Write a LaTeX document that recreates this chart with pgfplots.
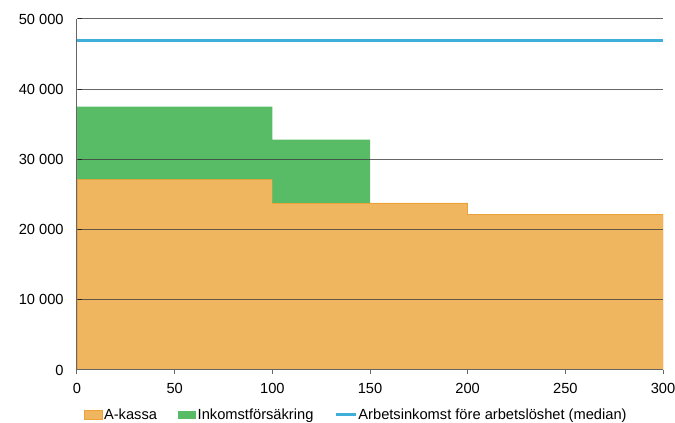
\documentclass[border=0pt]{standalone}
\usepackage{fontspec}
\setmainfont{Liberation Sans}
\usepackage{pgfplots}
\pgfplotsset{compat=1.18}
\definecolor{akassa}{RGB}{240,181,95}
\definecolor{akassaedge}{RGB}{236,162,55}
\definecolor{inkomst}{RGB}{88,187,101}
\definecolor{arb}{RGB}{63,174,216}
\begin{document}
\begin{tikzpicture}
\begin{axis}[
  scale only axis, width=439.5pt, height=263.25pt,
  xmin=0, xmax=300, ymin=0, ymax=50000,
  xtick={0,50,...,300}, ytick={0,10000,...,50000},
  scaled y ticks=false,
  /pgf/number format/assume math mode=true,
  tick label style={font=\fontsize{11}{13}\selectfont},
  yticklabel style={xshift=-3.5pt, /pgf/number format/1000 sep={\ }},
  xticklabel style={yshift=-3.5pt},
  axis on top,
  axis lines*=left,
  axis line style={draw=black!60, line width=0.75pt},
  ymajorgrids, major grid style={black!75, line width=0.75pt, opacity=0.8},
  tick align=outside, major tick length=3pt,
  tick style={black!60, line width=0.75pt},
  ytick style={black!85, xshift=3.5pt},
  legend style={at={(0.476,-0.128)}, anchor=center, draw=none, legend columns=3,
    font=\fontsize{11}{13}\selectfont, inner sep=0pt,
    nodes={inner sep=1pt},
    /tikz/every even column/.append style={column sep=15pt}},
  legend cell align=left,
]
\coordinate (bl) at (rel axis cs:0,0);
\coordinate (tr) at (rel axis cs:1,1);
\addplot[fill=akassa, draw=akassaedge, line width=0.6pt,
  legend image code/.code={\fill[akassa, draw=akassaedge] (0pt,-3.2pt) rectangle (13.5pt,3.2pt);}]
  coordinates {(0,27200)(100,27200)(100,23800)(200,23800)(200,22200)(300,22200)} \closedcycle;
\addlegendentry{A-kassa}
\addplot[fill=inkomst, draw=none,
  legend image code/.code={\fill[inkomst] (0pt,-3.2pt) rectangle (13.5pt,3.2pt);}]
  coordinates {(0,27200)(0,37500)(100,37500)(100,32800)(150,32800)(150,23800)(100,23800)(100,27200)};
\addlegendentry{Inkomstförsäkring}
\addplot[arb, line width=2.25pt, forget plot] coordinates {(0,46900)(300,46900)};
\addlegendimage{arb, line width=2.25pt, legend image code/.code={\draw[arb, line width=2.25pt] (0pt,0pt) -- (14.5pt,0pt);}}
\addlegendentry{Arbetsinkomst före arbetslöshet (median)}
\end{axis}
\pgfresetboundingbox
\path ([xshift=-57.75pt, yshift=-39.75pt]bl) rectangle ([xshift=9pt, yshift=14.25pt]tr);
\end{tikzpicture}
\end{document}
